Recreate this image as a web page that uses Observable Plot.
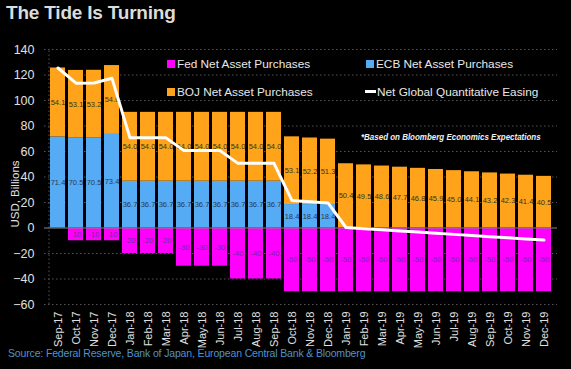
<!DOCTYPE html>
<html>
<head>
<meta charset="utf-8">
<script src="https://cdn.jsdelivr.net/npm/d3@7"></script>
<script src="https://cdn.jsdelivr.net/npm/@observablehq/plot@0.6"></script>
<style>
  html, body { margin: 0; padding: 0; background: #000; }
  #wrap { position: relative; width: 571px; height: 369px; background: #000; overflow: hidden; font-family: "Liberation Sans", Arial, sans-serif; }
  #wrap svg { position: absolute; left: 0; top: 0; }
  .title { position: absolute; left: 6px; top: 2px; font: bold 19px "Liberation Sans", Arial, sans-serif; color: #dcdcdc; letter-spacing: -0.2px; }
  .source { position: absolute; left: 8px; top: 347px; font: 10.5px "Liberation Sans", Arial, sans-serif; color: #4f93cc; letter-spacing: -0.15px; white-space: nowrap; }
  .leg { position: absolute; font: 11.8px "Liberation Sans", Arial, sans-serif; color: #e8e8e8; white-space: nowrap; }
  .sw { display: inline-block; width: 8px; height: 8px; margin-right: 2px; vertical-align: 0px; }
  .ln { display: inline-block; width: 11px; height: 3px; background: #fff; margin-right: 1px; vertical-align: 3px; }
  .note { position: absolute; left: 361px; top: 131px; font: italic bold 9.6px "Liberation Sans", Arial, sans-serif; color: #f0f0f0; white-space: nowrap; transform-origin: 0 0; transform: scaleX(0.83); }
</style>
</head>
<body>
<div id="wrap">
  <div class="title">The Tide Is Turning</div>
  <div class="source">Source: Federal Reserve, Bank of Japan, European Central Bank &amp; Bloomberg</div>
</div>
<script>
const months = ["Sep-17","Oct-17","Nov-17","Dec-17","Jan-18","Feb-18","Mar-18","Apr-18","May-18","Jun-18","Jul-18","Aug-18","Sep-18","Oct-18","Nov-18","Dec-18","Jan-19","Feb-19","Mar-19","Apr-19","May-19","Jun-19","Jul-19","Aug-19","Sep-19","Oct-19","Nov-19","Dec-19"];
const fed = [0,-10,-10,-10,-20,-20,-20,-30,-30,-30,-40,-40,-40,-50,-50,-50,-50,-50,-50,-50,-50,-50,-50,-50,-50,-50,-50,-50];
const ecb = [71.4,70.5,70.5,73.4,36.7,36.7,36.7,36.7,36.7,36.7,36.7,36.7,36.7,18.4,18.4,18.4,0,0,0,0,0,0,0,0,0,0,0,0];
const boj = [54.1,53.1,53.2,54.0,54.0,54.0,54.0,54.0,54.0,54.0,54.0,54.0,54.0,53.1,52.2,51.3,50.4,49.5,48.6,47.7,46.8,45.9,45.0,44.1,43.2,42.3,41.4,40.5];
const yTicks = [-60,-40,-20,0,20,40,60,80,100,120,140];
const seriesNames = ["Fed","ECB","BOJ"];
const seriesColors = ["#ff00ff","#55acf5","#ffa31a"];
const legendLabels = ["Fed Net Asset Purchases","ECB Net Asset Purchases","BOJ Net Asset Purchases","Net Global Quantitative Easing"];
const noteText = "*Based on Bloomberg Economics Expectations";

const rows = [];
months.forEach((m, i) => {
  rows.push({month: m, series: "ECB", value: ecb[i]});
  rows.push({month: m, series: "BOJ", value: boj[i]});
  rows.push({month: m, series: "Fed", value: fed[i]});
});
const net = months.map((m, i) => ({month: m, value: fed[i] + ecb[i] + boj[i]}));
const labelColor = {Fed: "#7a2890", ECB: "#2a3a4a", BOJ: "#3a3020"};

const chart = Plot.plot({
  width: 571,
  height: 369,
  marginTop: 49,
  marginBottom: 65,
  marginLeft: 44,
  marginRight: 14,
  style: {background: "transparent", color: "#e0e0e0", fontFamily: "Liberation Sans, Arial, sans-serif"},
  x: {domain: months, padding: 0.18, label: null},
  y: {domain: [-60, 140], ticks: yTicks, label: null},
  color: {domain: seriesNames, range: seriesColors},
  marks: [
    Plot.ruleY(yTicks.filter(t => t !== 0), {stroke: "#555", strokeDasharray: "1.5,2.5", strokeWidth: 1}),
    Plot.ruleX([months[0]], {stroke: "#555", strokeDasharray: "1.5,2.5", y1: -60, y2: 140, dx: -9}),
    Plot.barY(rows, {x: "month", y: "value", fill: "series"}),
    Plot.text(rows, Plot.stackY({
      x: "month", y: "value",
      text: d => d.value === 0 ? "" : (d.series === "Fed" ? String(d.value) : d.value.toFixed(1)),
      fill: d => labelColor[d.series],
      fontSize: 7.5
    })),
    Plot.ruleY([0], {stroke: "#888", strokeWidth: 1}),
    Plot.lineY(net, {x: "month", y: "value", stroke: "#fff", strokeWidth: 3, curve: "linear"}),
    Plot.axisY({ticks: yTicks, tickSize: 0, tickPadding: 10, fontSize: 12.5, fill: "#e0e0e0"}),
    Plot.axisX({tickSize: 0, tickPadding: 7, tickRotate: -90, fontSize: 11, fill: "#e0e0e0"})
  ]
});
const wrap = document.getElementById("wrap");
wrap.insertBefore(chart, wrap.firstChild);

// y axis label
const yl = document.createElement("div");
yl.textContent = "USD, Billions";
yl.style.cssText = "position:absolute;left:15px;top:194px;transform:translate(-50%,-50%) rotate(-90deg);font:11.5px 'Liberation Sans',Arial,sans-serif;color:#e0e0e0;white-space:nowrap;";
wrap.appendChild(yl);

// legend
const legPos = [[167, 57], [366, 57], [167, 85], [365, 85]];
legendLabels.forEach((t, i) => {
  const d = document.createElement("div");
  d.className = "leg";
  d.style.left = legPos[i][0] + "px";
  d.style.top = legPos[i][1] + "px";
  if (i < 3) {
    d.innerHTML = `<span class="sw" style="background:${seriesColors[i]}"></span>`;
  } else {
    d.innerHTML = `<span class="ln"></span>`;
  }
  d.appendChild(document.createTextNode(t));
  wrap.appendChild(d);
});
const n = document.createElement("div");
n.className = "note";
n.textContent = noteText;
wrap.appendChild(n);
</script>
</body>
</html>
